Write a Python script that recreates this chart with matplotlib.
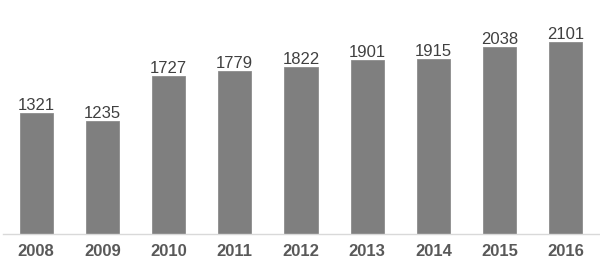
import matplotlib
matplotlib.use("Agg")
import matplotlib.pyplot as plt

years = ["2008", "2009", "2010", "2011", "2012", "2013", "2014", "2015", "2016"]
values = [1321, 1235, 1727, 1779, 1822, 1901, 1915, 2038, 2101]

plt.rcParams['font.family'] = ['Liberation Sans', 'DejaVu Sans']

fig = plt.figure(figsize=(6, 2.65), dpi=100)
ax = fig.add_axes([3/600, 31/265, 596/600, 234/265])
x = list(range(len(years)))
bars = ax.bar(x, values, width=0.5, color="#7f7f7f", edgecolor="#8c8c8c", linewidth=0.6, zorder=2)
ax.set_xlim(-0.5, len(years) - 0.5)
ax.set_ylim(0, 2555)

for xi, v in zip(x, values):
    ax.annotate(str(v), (xi, v), xytext=(0, 3), textcoords="offset pixels",
                ha="center", va="baseline", fontsize=12, color="#404040")

for s in ["top", "left", "right"]:
    ax.spines[s].set_visible(False)
ax.spines["bottom"].set_color("#d9d9d9")
ax.spines["bottom"].set_linewidth(1.0)
ax.set_yticks([])
ax.set_xticks(x)
ax.set_xticklabels(years, fontsize=12, fontweight="bold", color="#595959")
ax.tick_params(axis="x", length=0, pad=7.5)

fig.savefig("out.png", dpi=100)
